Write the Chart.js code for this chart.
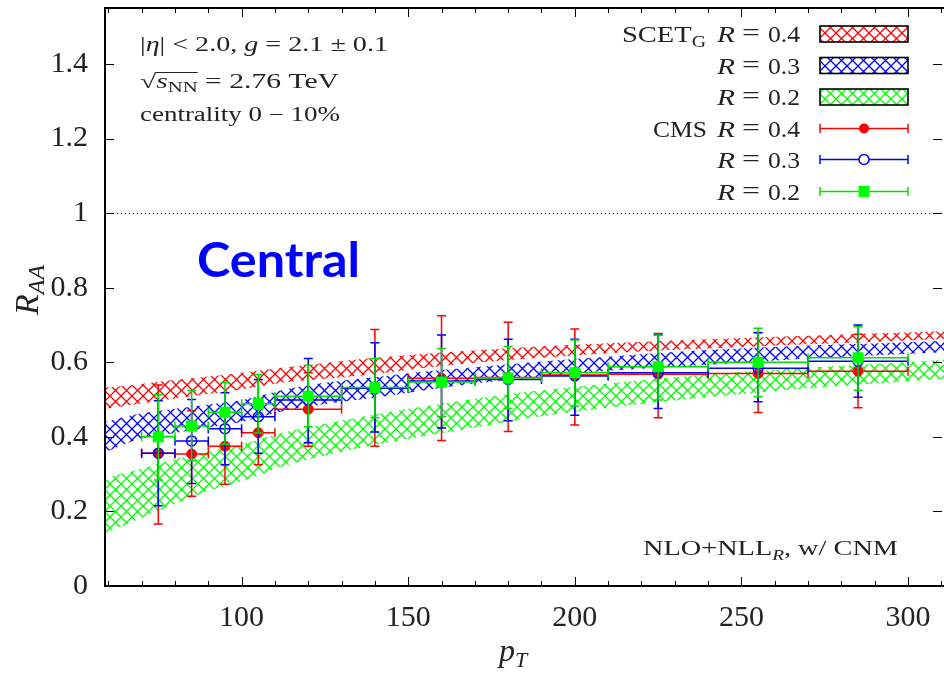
<!DOCTYPE html>
<html><head><meta charset="utf-8">
<script src="https://cdn.jsdelivr.net/npm/chart.js@4/dist/chart.umd.min.js"></script>
<style>html,body{margin:0;padding:0;background:#fff}#wrap{width:944px;height:673px}</style>
</head><body><div id="wrap"><canvas id="c" width="944" height="673"></canvas></div>
<script>
// ---------- data ----------
const bandPt      = [59,68,80,90,100,112,125,140,155,172,190,210,238,270,304,311];
const scetR04Low  = [.475,.487,.503,.515,.527,.545,.556,.568,.585,.600,.612,.624,.636,.648,.660,.662];
const scetR04High = [.532,.540,.553,.562,.572,.585,.598,.612,.623,.633,.643,.651,.661,.671,.681,.683];
const scetR03Low  = [.358,.390,.410,.425,.440,.468,.488,.505,.525,.545,.562,.577,.592,.610,.624,.627];
const scetR03High = [.440,.460,.475,.487,.498,.525,.545,.560,.575,.588,.602,.615,.632,.645,.655,.658];
const scetR02Low  = [.140,.175,.220,.255,.280,.320,.350,.378,.402,.428,.455,.478,.505,.530,.552,.556];
const scetR02High = [.290,.310,.340,.360,.380,.410,.435,.460,.482,.505,.525,.543,.566,.585,.603,.607];

const cmsPt     = [75,85,95,105,120,140,160,180,200,225,255,285];
const cmsPtLow  = [70,80,90,100,110,130,150,170,190,210,240,270];
const cmsPtHigh = [80,90,100,110,130,150,170,190,210,240,270,300];
const cmsR04    = [.356,.354,.375,.411,.474,.530,.557,.559,.566,.568,.570,.576];
const cmsR04Lo  = [.166,.241,.273,.325,.375,.375,.390,.414,.432,.451,.465,.478];
const cmsR04Hi  = [.539,.470,.477,.497,.572,.688,.725,.707,.689,.677,.680,.675];
const cmsR03    = [.356,.389,.422,.454,.499,.530,.550,.554,.563,.572,.584,.603];
const cmsR03Lo  = [.215,.275,.325,.356,.384,.413,.424,.443,.458,.476,.494,.506];
const cmsR03Hi  = [.497,.500,.518,.554,.610,.652,.673,.662,.662,.674,.679,.700];
const cmsR02    = [.400,.429,.466,.489,.509,.532,.547,.558,.572,.588,.600,.612];
const cmsR02Lo  = [.284,.336,.380,.410,.427,.451,.454,.476,.483,.499,.508,.525];
const cmsR02Hi  = [.513,.524,.546,.567,.592,.610,.637,.642,.660,.673,.691,.695];

const xTickValues = [100,150,200,250,300];
const yTickValues = [0,0.2,0.4,0.6,0.8,1,1.2,1.4];
const yTickLabels = ['0','0.2','0.4','0.6','0.8','1','1.2','1.4'];
const refLine = 1;

// ---------- helpers ----------
const SERIF = "'Liberation Serif','DejaVu Serif',serif";
const RED='#ff0000', BLUE='#0000ff', GREEN='#00ff00', GREENLINE='#00e000';
function hatch(color){
  const s=11, cv=document.createElement('canvas'); cv.width=s; cv.height=s;
  const g=cv.getContext('2d'); g.strokeStyle=color; g.lineWidth=1.3;
  g.beginPath(); g.moveTo(-1,-1); g.lineTo(s+1,s+1); g.moveTo(s+1,-1); g.lineTo(-1,s+1); g.stroke();
  return document.getElementById('c').getContext('2d').createPattern(cv,'repeat');
}
const patR=hatch(RED), patB=hatch(BLUE), patG=hatch(GREEN);
const fnt=p=>(p.i?'italic ':'')+(p.b?'bold ':'')+p.s+'px '+(p.f||SERIF);
function drawRich(c, parts, x, y, target, align){
  let nat=0; for(const p of parts){c.font=fnt(p); nat+=c.measureText(p.t).width;}
  const sx=target?target/nat:1, tw=nat*sx;
  const x0= align==='right'? x-tw : align==='center'? x-tw/2 : x;
  c.save(); c.translate(x0,y); c.scale(sx,1); c.textBaseline='alphabetic'; c.textAlign='left';
  let cx=0, ov=null;
  for(const p of parts){
    c.font=fnt(p); const m=c.measureText(p.t);
    c.fillText(p.t,cx,p.dy||0);
    if(p.root){ ov={x0:cx+m.width-0.5, y:-m.actualBoundingBoxAscent+0.6}; }
    if(p.over && ov){ ov.x1=cx+m.width; }
    cx+=m.width;
  }
  if(ov&&ov.x1){ c.lineWidth=1; c.strokeStyle=c.fillStyle; c.beginPath(); c.moveTo(ov.x0,ov.y); c.lineTo(ov.x1,ov.y); c.stroke(); }
  c.restore();
}
function pts(xs,ys){return xs.map((x,i)=>({x,y:ys[i]}));}

// ---------- plugins ----------
const errPlugin={ id:'errbars',
  beforeDatasetDraw(chart,args){
    const ds=chart.data.datasets[args.index]; if(!ds.errLo) return;
    const xs=chart.scales.x, ys=chart.scales.y, c=chart.ctx, a=chart.chartArea;
    c.save(); c.beginPath(); c.rect(a.left,a.top,a.right-a.left,a.bottom-a.top); c.clip();
    c.strokeStyle=ds.lineColor; c.lineWidth=1.5; c.beginPath();
    cmsPt.forEach((v,i)=>{
      const px=xs.getPixelForValue(v), py=ys.getPixelForValue(ds.data[i].y);
      const x0=xs.getPixelForValue(cmsPtLow[i]), x1=xs.getPixelForValue(cmsPtHigh[i]);
      const y0=ys.getPixelForValue(ds.errLo[i]), y1=ys.getPixelForValue(ds.errHi[i]);
      c.moveTo(x0,py); c.lineTo(x1,py); c.moveTo(x0,py-4.5); c.lineTo(x0,py+4.5); c.moveTo(x1,py-4.5); c.lineTo(x1,py+4.5);
      c.moveTo(px,y0); c.lineTo(px,y1); c.moveTo(px-4.5,y0); c.lineTo(px+4.5,y0); c.moveTo(px-4.5,y1); c.lineTo(px+4.5,y1);
    });
    c.stroke(); c.restore();
  }
};
const decoPlugin={ id:'deco',
  beforeDatasetsDraw(chart){
    const c=chart.ctx, a=chart.chartArea, py=Math.round(chart.scales.y.getPixelForValue(refLine))+0.5;
    c.save(); c.strokeStyle='#222'; c.lineWidth=1; c.setLineDash([1.2,2.8]);
    c.beginPath(); c.moveTo(a.left,py); c.lineTo(a.right,py); c.stroke(); c.restore();
  },
  afterDraw(chart){
    const c=chart.ctx, a=chart.chartArea, xs=chart.scales.x, ys=chart.scales.y;
    c.save();
    // ticks
    c.strokeStyle='#000'; c.lineWidth=1; c.beginPath();
    for(let v=60; v<=xs.max; v+=10){
      const px=Math.round(xs.getPixelForValue(v))+0.5, L=(v%50===0)?9:5;
      c.moveTo(px,a.bottom); c.lineTo(px,a.bottom-L); c.moveTo(px,a.top); c.lineTo(px,a.top+L);
    }
    for(const v of yTickValues){
      const py=Math.round(ys.getPixelForValue(v))+0.5;
      c.moveTo(a.left,py); c.lineTo(a.left+9,py); c.moveTo(a.right-2,py); c.lineTo(a.right-11,py);
    }
    c.stroke();
    // frame
    c.lineWidth=2; c.strokeRect(a.left,a.top,a.right-a.left+2,a.bottom-a.top);
    // axis titles
    c.fillStyle='#222';
    drawRich(c,[{t:'p',s:32,i:1},{t:'T',s:22,i:1,dy:6}],513,661,null,'center');
    c.save(); c.translate(38,290); c.rotate(-Math.PI/2);
    drawRich(c,[{t:'R',s:34,i:1},{t:'AA',s:24,i:1,dy:6}],0,0,null,'center');
    c.restore();
    // top-left annotation
    drawRich(c,[{t:'|',s:20},{t:'η',s:20,i:1},{t:'| < 2.0, ',s:20},{t:'g',s:20,i:1},{t:' = 2.1 ± 0.1',s:20}],140,51,248);
    drawRich(c,[{t:'√',s:20,root:1},{t:'s',s:20,i:1,over:1},{t:'NN',s:14,dy:4,over:1},{t:' = 2.76 TeV',s:20}],140,88,199);
    drawRich(c,[{t:'centrality 0 − 10%',s:20}],140,121,200);
    // bottom-right annotation
    drawRich(c,[{t:'NLO+NLL',s:22},{t:'R',s:15,i:1,dy:5},{t:', w/ CNM',s:22}],643,555,255);
    // Central
    c.fillStyle='#0000ff';
    drawRich(c,[{t:'Central',s:48,b:1,f:"Lato,'Open Sans',sans-serif"}],197,277,163);
    // legend
    c.fillStyle='#222';
    const rows=[42,73.5,105,136.5,168,199.5];
    const rl=['0.4','0.3','0.2','0.4','0.3','0.2'];
    rows.forEach((by,k)=>{
      drawRich(c,[{t:'R',s:24,i:1}],717,by,18);
      drawRich(c,[{t:'=',s:26}],751,by-1,18,'center');
      drawRich(c,[{t:rl[k],s:24}],800,by,32,'right');
    });
    drawRich(c,[{t:'SCET',s:23},{t:'G',s:16,dy:5}],706,rows[0],84,'right');
    drawRich(c,[{t:'CMS',s:23}],707,rows[3],54,'right');
    const pats=[patR,patB,patG];
    for(let k=0;k<3;k++){
      const cy=rows[k]-8;
      c.fillStyle=pats[k]; c.fillRect(820,cy-8,88,16);
      c.strokeStyle='#000'; c.lineWidth=1.6; c.strokeRect(820,cy-8,88,16);
    }
    const lc=[RED,BLUE,GREENLINE];
    for(let k=0;k<3;k++){
      const cy=Math.round(rows[k+3]-9)+0.5;
      c.strokeStyle=lc[k]; c.lineWidth=1.5; c.beginPath();
      c.moveTo(820,cy); c.lineTo(908,cy); c.moveTo(820,cy-4.5); c.lineTo(820,cy+4.5); c.moveTo(908,cy-4.5); c.lineTo(908,cy+4.5); c.stroke();
      if(k===0){ c.fillStyle=RED; c.beginPath(); c.arc(864,cy,5,0,2*Math.PI); c.fill(); }
      if(k===1){ c.strokeStyle=BLUE; c.fillStyle='#fff'; c.beginPath(); c.arc(864,cy,5,0,2*Math.PI); c.fill(); c.stroke(); }
      if(k===2){ c.fillStyle=GREEN; c.fillRect(858.5,cy-5.5,11,11); }
    }
    c.restore();
  }
};

// ---------- chart ----------
const band=(d,extra)=>Object.assign({data:d,borderWidth:0,borderColor:'rgba(0,0,0,0)',pointRadius:0,cubicInterpolationMode:'monotone',order:10,fill:false},extra||{});
new Chart(document.getElementById('c'),{
  type:'line',
  data:{datasets:[
    band(pts(bandPt,scetR04Low)),
    band(pts(bandPt,scetR04High),{fill:'-1',backgroundColor:patR}),
    band(pts(bandPt,scetR03Low)),
    band(pts(bandPt,scetR03High),{fill:'-1',backgroundColor:patB}),
    band(pts(bandPt,scetR02Low)),
    band(pts(bandPt,scetR02High),{fill:'-1',backgroundColor:patG}),
    {type:'scatter',data:pts(cmsPt,cmsR04),errLo:cmsR04Lo,errHi:cmsR04Hi,lineColor:RED,showLine:false,pointStyle:'circle',pointRadius:5,backgroundColor:RED,borderColor:RED,borderWidth:1,order:3},
    {type:'scatter',data:pts(cmsPt,cmsR03),errLo:cmsR03Lo,errHi:cmsR03Hi,lineColor:BLUE,showLine:false,pointStyle:'circle',pointRadius:5,backgroundColor:'rgba(0,0,0,0)',borderColor:BLUE,borderWidth:1.5,order:2},
    {type:'scatter',data:pts(cmsPt,cmsR02),errLo:cmsR02Lo,errHi:cmsR02Hi,lineColor:GREENLINE,showLine:false,pointStyle:'rect',pointRadius:7.8,backgroundColor:GREEN,borderColor:GREEN,borderWidth:0,order:1}
  ]},
  options:{
    responsive:false, animation:false, devicePixelRatio:1,
    layout:{autoPadding:false,padding:{top:8,right:0,left:0,bottom:0}},
    plugins:{legend:{display:false},tooltip:{enabled:false}},
    scales:{
      x:{type:'linear',min:59,max:310.8,grid:{display:false,drawTicks:false},border:{display:false},
        ticks:{font:{family:SERIF,size:30},color:'#222',padding:14,maxRotation:0,autoSkip:false,callback:v=>String(v)},
        afterBuildTicks:s=>{s.ticks=xTickValues.map(v=>({value:v}));},
        afterFit:s=>{s.height=87; s.paddingLeft=0; s.paddingRight=0;}},
      y:{type:'linear',min:0,max:1.55,grid:{display:false,drawTicks:false},border:{display:false},
        ticks:{font:{family:SERIF,size:30},color:'#222',padding:17,autoSkip:false,callback:(v,i)=>yTickLabels[i]},
        afterBuildTicks:s=>{s.ticks=yTickValues.map(v=>({value:v}));},
        afterFit:s=>{s.width=105; s.paddingTop=0; s.paddingBottom=0;}}
    }
  },
  plugins:[errPlugin,decoPlugin]
});
</script></body></html>
